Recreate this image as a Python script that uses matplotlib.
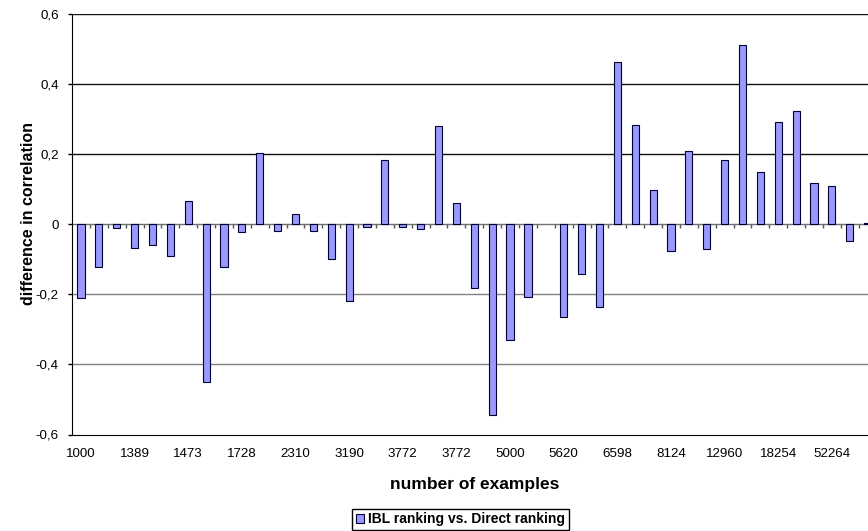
import matplotlib
matplotlib.use("Agg")
import matplotlib.pyplot as plt
import numpy as np
from matplotlib.ticker import FuncFormatter

# difference in correlation (IBL ranking minus direct ranking), one bar per data set,
# data sets ordered by number of examples (nan = no result for that set)
diffs = [-0.210, -0.122, -0.010, -0.066, -0.058, -0.090, 0.067, -0.450, -0.122,
         -0.022, 0.203, -0.019, 0.031, -0.019, -0.099, -0.219, -0.007, 0.184,
         -0.007, -0.012, 0.282, 0.060, -0.182, -0.545, -0.329, -0.206, np.nan,
         -0.264, -0.142, -0.237, 0.464, 0.283, 0.098, -0.077, 0.211, -0.069,
         0.183, 0.511, 0.149, 0.293, 0.324, 0.117, 0.109, -0.046, 0.003]

# only every third data set is labelled on the category axis
size_labels = ["1000", "1389", "1473", "1728", "2310", "3190", "3772", "3772",
               "5000", "5620", "6598", "8124", "12960", "18254", "52264"]
label_step = 3

y_ticks = [-0.6, -0.4, -0.2, 0.0, 0.2, 0.4, 0.6]

series_name = "IBL ranking vs. Direct ranking"

plt.rcParams["font.family"] = ["Liberation Sans", "DejaVu Sans"]

W, H = 868, 531
fig = plt.figure(figsize=(W / 100, H / 100), dpi=100)
ax = fig.add_axes([72 / W, 1 - 434.5 / H, 1 - 72 / W, 420.2 / H])

x = np.arange(len(diffs))
bars = ax.bar(x, diffs, width=0.4, color="#9999FF", edgecolor="#000033",
              linewidth=0.8, zorder=3, label=series_name)

ax.set_ylim(-0.6, 0.6)
ax.set_xlim(-0.5, 44.02)

# horizontal gridlines, plus the category axis line at zero
for v in y_ticks[1:]:
    if v == 0:
        ax.axhline(v, color="#707070", lw=1, zorder=2)
        continue
    ax.axhline(v, color="#111111" if v > 0 else "#808080", lw=1, zorder=1)

def comma_fmt(v, pos):
    if abs(v) < 1e-9:
        return "0"
    return f"{v:.1f}".replace(".", ",")

ax.set_yticks(y_ticks)
ax.yaxis.set_major_formatter(FuncFormatter(comma_fmt))
ax.tick_params(axis="y", direction="out", length=3, width=1, color="black",
               labelsize=9.6, pad=6.5)

ax.set_xticks(x[::label_step])
ax.set_xticklabels(size_labels)
ax.tick_params(axis="x", length=0, labelsize=9.6, pad=10)

for side in ["top", "right"]:
    ax.spines[side].set_visible(False)
ax.spines["left"].set_color("black")
ax.spines["bottom"].set_color("black")

# tick marks between categories, hanging below the zero line
zero_axis = ax.secondary_xaxis(0.4999)
zero_axis.set_xticks(x[:-1] + 0.5)
zero_axis.tick_params(axis="x", direction="out", length=3, width=1,
                      color="#555555", labelbottom=False, labeltop=False)
zero_axis.spines["bottom"].set_visible(False)
zero_axis.spines["top"].set_visible(False)

ax.set_ylabel("difference in correlation", fontsize=11.5, fontweight="bold")
ax.yaxis.label.set_va("baseline")
ax.yaxis.set_label_coords(-0.049, 0.527)

ax.set_xlabel("number of examples", fontsize=12.5, fontweight="bold")
ax.xaxis.label.set_va("baseline")
ax.xaxis.set_label_coords(0.506, -0.1297)

leg = fig.legend(handles=[bars], loc="center",
                 bbox_to_anchor=(460.5 / W, 1 - 519.5 / H),
                 prop={"size": 10, "weight": "bold"}, fancybox=False,
                 framealpha=1, edgecolor="black", borderpad=0.25,
                 handlelength=0.6, handleheight=0.6, handletextpad=0.3,
                 borderaxespad=0)
leg.get_frame().set_linewidth(1)

fig.savefig("out.png", dpi=100)
